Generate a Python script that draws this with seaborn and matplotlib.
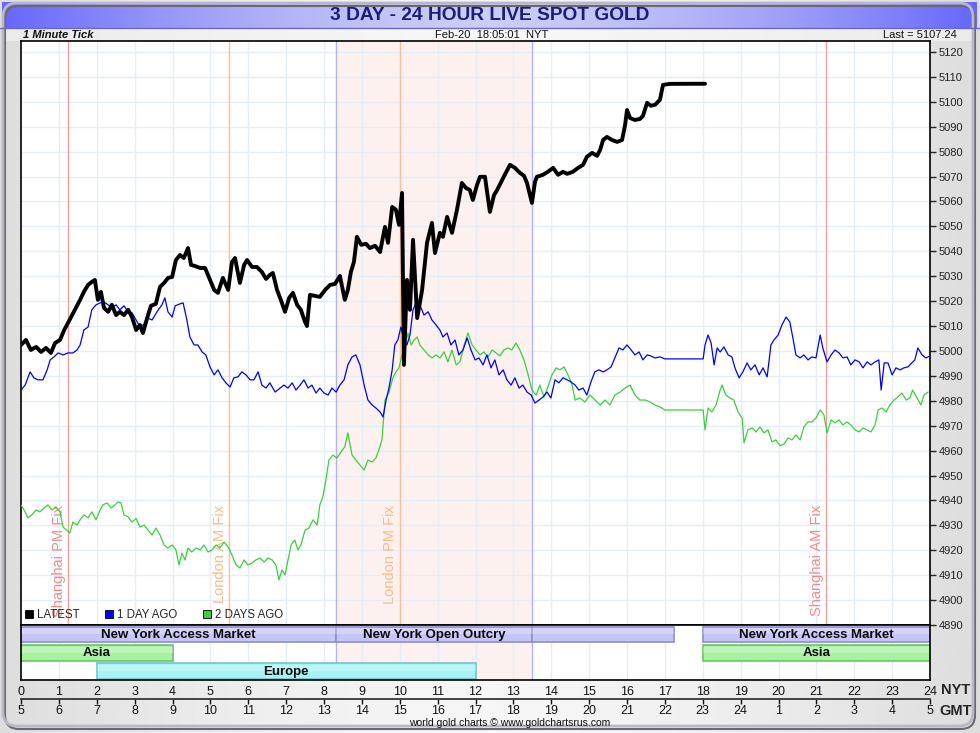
import numpy as np
import matplotlib
matplotlib.use("Agg")
import matplotlib.pyplot as plt
from matplotlib.patches import Patch, FancyBboxPatch
import seaborn as sns

# hours after midnight (New York time) and spot price
latest_hr = [0.00, 0.13, 0.26, 0.40, 0.53, 0.66, 0.79, 0.90, 1.03, 1.14, 1.24, 1.35, 1.45, 1.56, 1.66, 1.77,
             1.87, 1.95, 2.03, 2.11, 2.19, 2.30, 2.40, 2.51, 2.61, 2.72, 2.83, 2.93, 3.04, 3.14, 3.22, 3.33,
             3.43, 3.56, 3.67, 3.78, 3.88, 3.99, 4.09, 4.20, 4.30, 4.41, 4.49, 4.59, 4.73, 4.86, 4.99, 5.10,
             5.20, 5.33, 5.47, 5.57, 5.65, 5.78, 5.89, 5.97, 6.10, 6.23, 6.36, 6.47, 6.57, 6.65, 6.76, 6.86,
             6.97, 7.08, 7.18, 7.29, 7.39, 7.50, 7.55, 7.63, 7.76, 7.89, 8.03, 8.16, 8.29, 8.42, 8.55, 8.63,
             8.71, 8.79, 8.87, 8.98, 9.11, 9.21, 9.35, 9.48, 9.61, 9.69, 9.80, 9.90, 9.98, 10.06, 10.11, 10.19,
             10.27, 10.35, 10.46, 10.59, 10.72, 10.85, 10.93, 11.06, 11.14, 11.25, 11.38, 11.51, 11.64, 11.75,
             11.85, 11.93, 12.04, 12.12, 12.25, 12.38, 12.49, 12.57, 12.73, 12.91, 13.04, 13.17, 13.28, 13.36,
             13.49, 13.57, 13.62, 13.78, 13.91, 14.05, 14.18, 14.31, 14.42, 14.57, 14.71, 14.84, 14.94, 15.08,
             15.21, 15.29, 15.37, 15.47, 15.60, 15.74, 15.87, 15.95, 16.00, 16.08, 16.21, 16.34, 16.42, 16.53,
             16.63, 16.74, 16.87, 16.95, 17.14, 17.40, 17.66, 18.06]
latest_px = [5002.4, 5004.4, 5000.4, 5001.6, 4999.6, 5001.2, 4999.2, 5003.2, 5004.4, 5008.4, 5011.2, 5014.4,
             5017.3, 5020.5, 5023.7, 5026.5, 5027.7, 5028.5, 5020.5, 5023.7, 5017.3, 5015.7, 5018.5, 5014.4,
             5015.7, 5014.4, 5016.5, 5013.6, 5008.4, 5010.4, 5007.2, 5013.2, 5018.1, 5018.9, 5025.7, 5027.3,
             5029.3, 5029.7, 5036.5, 5038.5, 5037.3, 5041.3, 5034.5, 5034.1, 5033.3, 5033.3, 5028.5, 5024.5,
             5023.3, 5029.3, 5024.5, 5035.7, 5037.3, 5027.3, 5034.5, 5036.5, 5033.7, 5033.7, 5031.7, 5028.9,
             5030.5, 5031.3, 5024.5, 5020.5, 5015.7, 5021.3, 5023.3, 5018.5, 5016.5, 5011.6, 5010.0, 5022.5,
             5022.1, 5021.7, 5024.5, 5026.5, 5026.9, 5030.1, 5020.5, 5024.5, 5031.7, 5035.7, 5045.8, 5042.6,
             5043.0, 5041.3, 5042.2, 5039.7, 5049.8, 5043.4, 5057.8, 5056.6, 5050.6, 5063.4, 4994.4, 5028.5,
             5016.5, 5044.6, 5013.2, 5024.5, 5043.4, 5051.4, 5039.3, 5047.4, 5045.8, 5053.8, 5047.4, 5056.6,
             5067.4, 5065.4, 5064.6, 5060.6, 5066.6, 5069.9, 5069.9, 5055.8, 5062.6, 5064.6, 5069.4, 5074.7,
             5073.5, 5071.5, 5070.3, 5067.4, 5059.4, 5067.8, 5069.9, 5070.7, 5071.9, 5073.5, 5070.7, 5071.9,
             5071.1, 5071.9, 5073.5, 5074.7, 5077.9, 5079.5, 5078.3, 5080.7, 5084.7, 5085.9, 5084.7, 5083.9,
             5084.7, 5090.7, 5096.7, 5093.5, 5092.7, 5093.1, 5094.3, 5099.6, 5098.4, 5098.8, 5100.8, 5106.8,
             5107.2, 5107.2, 5107.2, 5107.24]

day1_hr = [0.00, 0.11, 0.24, 0.34, 0.45, 0.58, 0.69, 0.77, 0.87, 0.98, 1.11, 1.24, 1.37, 1.48, 1.56, 1.66,
           1.77, 1.87, 1.98, 2.09, 2.19, 2.30, 2.40, 2.51, 2.61, 2.72, 2.83, 2.93, 3.04, 3.14, 3.25, 3.35,
           3.46, 3.59, 3.72, 3.80, 3.88, 3.99, 4.07, 4.20, 4.28, 4.38, 4.46, 4.57, 4.67, 4.78, 4.88, 4.99,
           5.10, 5.20, 5.31, 5.41, 5.52, 5.62, 5.73, 5.83, 5.94, 6.05, 6.15, 6.26, 6.36, 6.47, 6.57, 6.71,
           6.84, 6.94, 7.05, 7.16, 7.26, 7.37, 7.47, 7.58, 7.68, 7.79, 7.89, 8.00, 8.11, 8.21, 8.32, 8.42,
           8.53, 8.63, 8.74, 8.84, 8.95, 9.06, 9.16, 9.27, 9.37, 9.48, 9.56, 9.64, 9.72, 9.80, 9.87, 9.95,
           10.03, 10.11, 10.19, 10.27, 10.35, 10.43, 10.53, 10.64, 10.75, 10.85, 10.96, 11.06, 11.14, 11.25,
           11.35, 11.46, 11.56, 11.67, 11.78, 11.88, 11.99, 12.09, 12.20, 12.30, 12.41, 12.51, 12.62, 12.73,
           12.83, 12.94, 13.04, 13.15, 13.25, 13.36, 13.47, 13.57, 13.68, 13.78, 13.89, 13.99, 14.10, 14.20,
           14.31, 14.42, 14.52, 14.63, 14.73, 14.84, 14.94, 15.05, 15.15, 15.26, 15.37, 15.47, 15.58, 15.68,
           15.79, 15.89, 16.00, 16.11, 16.21, 16.32, 16.42, 16.53, 16.63, 16.74, 16.87, 17.00, 17.40, 18.01,
           18.06, 18.14, 18.22, 18.30, 18.38, 18.46, 18.56, 18.67, 18.77, 18.85, 18.96, 19.06, 19.17, 19.27,
           19.38, 19.49, 19.59, 19.70, 19.80, 19.88, 19.99, 20.09, 20.20, 20.30, 20.38, 20.46, 20.57, 20.67,
           20.78, 20.88, 20.99, 21.10, 21.17, 21.28, 21.39, 21.49, 21.60, 21.70, 21.81, 21.91, 22.02, 22.13,
           22.23, 22.34, 22.44, 22.55, 22.65, 22.71, 22.79, 22.89, 23.00, 23.10, 23.21, 23.31, 23.42, 23.52,
           23.60, 23.68, 23.79, 23.89, 24.00]
day1_px = [4984.3, 4986.3, 4991.6, 4989.2, 4988.4, 4988.4, 4992.4, 4996.4, 4997.6, 4999.2, 4998.4, 4999.2,
           4999.2, 5000.4, 5002.4, 5008.4, 5009.6, 5016.5, 5018.5, 5019.3, 5019.7, 5018.5, 5017.3, 5018.5,
           5016.5, 5018.1, 5015.7, 5015.3, 5012.4, 5009.6, 5010.8, 5013.2, 5012.4, 5015.7, 5018.5, 5021.3,
           5015.7, 5013.6, 5018.1, 5018.9, 5019.3, 5012.4, 5005.6, 5002.4, 5002.4, 4999.6, 4998.4, 4993.6,
           4990.4, 4992.4, 4989.2, 4987.2, 4985.5, 4989.2, 4989.6, 4991.6, 4990.4, 4988.4, 4988.4, 4991.6,
           4986.3, 4985.1, 4987.2, 4983.5, 4985.1, 4986.3, 4985.1, 4987.2, 4984.3, 4986.3, 4988.4, 4985.1,
           4986.3, 4983.1, 4985.1, 4983.1, 4982.3, 4985.1, 4983.5, 4986.3, 4988.4, 4994.4, 4997.6, 4998.4,
           4994.4, 4986.3, 4980.3, 4978.3, 4977.1, 4975.5, 4973.5, 4980.3, 4985.5, 4992.4, 5002.4, 5004.4,
           5009.6, 5004.4, 5002.4, 5006.4, 5016.5, 5019.3, 5018.5, 5014.4, 5015.7, 5012.4, 5010.4, 5008.4,
           5005.6, 5007.2, 5002.4, 5004.4, 4998.4, 5000.4, 5005.2, 5000.4, 4996.4, 4997.2, 4994.4, 4998.4,
           4993.2, 4996.4, 4990.4, 4992.4, 4988.4, 4986.3, 4989.2, 4985.1, 4986.3, 4983.5, 4982.3, 4979.1,
           4980.3, 4981.5, 4983.5, 4981.1, 4988.4, 4987.2, 4989.2, 4988.4, 4987.6, 4986.3, 4984.3, 4985.1,
           4982.3, 4987.6, 4991.6, 4992.4, 4991.6, 4992.4, 4993.6, 4997.2, 5001.2, 5000.4, 5002.4, 5000.4,
           4998.4, 4999.6, 4996.4, 4998.4, 4998.0, 4997.2, 4997.6, 4996.8, 4996.8, 4996.8, 5002.4, 5006.4,
           5003.2, 4994.4, 5001.2, 4999.6, 5001.6, 4998.4, 4997.6, 4993.2, 4989.2, 4991.6, 4995.2, 4992.4,
           4994.4, 4990.4, 4993.2, 4989.6, 5002.4, 5004.4, 5006.4, 5010.4, 5013.6, 5011.6, 5005.2, 4998.4,
           4997.2, 4998.4, 4996.4, 4997.6, 4997.2, 5006.4, 5001.2, 4995.6, 4998.4, 5000.4, 4999.2, 4997.2,
           4997.6, 4994.4, 4996.4, 4995.6, 4993.2, 4995.6, 4994.4, 4995.6, 4996.4, 4984.3, 4995.2, 4995.2,
           4990.4, 4993.2, 4992.4, 4993.2, 4993.6, 4995.2, 4996.4, 5001.2, 4998.4, 4997.2, 4998.0]

day2_hr = [0.00, 0.11, 0.18, 0.29, 0.40, 0.50, 0.61, 0.71, 0.82, 0.92, 1.03, 1.11, 1.21, 1.29, 1.37, 1.48,
           1.56, 1.66, 1.77, 1.87, 1.98, 2.09, 2.16, 2.27, 2.38, 2.48, 2.56, 2.64, 2.72, 2.83, 2.93, 3.04,
           3.14, 3.25, 3.35, 3.46, 3.56, 3.67, 3.78, 3.88, 3.99, 4.09, 4.17, 4.25, 4.33, 4.41, 4.51, 4.62,
           4.73, 4.83, 4.94, 5.04, 5.15, 5.25, 5.36, 5.47, 5.57, 5.68, 5.78, 5.89, 5.99, 6.10, 6.20, 6.31,
           6.42, 6.52, 6.63, 6.73, 6.81, 6.89, 6.97, 7.05, 7.13, 7.23, 7.31, 7.39, 7.50, 7.60, 7.71, 7.82,
           7.89, 7.97, 8.05, 8.13, 8.24, 8.34, 8.45, 8.55, 8.63, 8.74, 8.84, 8.95, 9.06, 9.16, 9.27, 9.37,
           9.45, 9.53, 9.61, 9.72, 9.82, 9.90, 9.98, 10.06, 10.14, 10.22, 10.30, 10.38, 10.46, 10.53, 10.64,
           10.75, 10.85, 10.96, 11.06, 11.17, 11.27, 11.38, 11.49, 11.59, 11.70, 11.80, 11.91, 12.01, 12.12,
           12.22, 12.33, 12.44, 12.54, 12.65, 12.75, 12.86, 12.96, 13.07, 13.17, 13.28, 13.39, 13.49, 13.60,
           13.70, 13.81, 13.91, 14.02, 14.13, 14.23, 14.34, 14.44, 14.55, 14.63, 14.76, 14.89, 15.02, 15.16,
           15.29, 15.42, 15.55, 15.68, 15.82, 15.95, 16.08, 16.21, 16.34, 16.48, 16.61, 16.74, 16.87, 17.00,
           18.01, 18.06, 18.14, 18.24, 18.35, 18.46, 18.51, 18.61, 18.72, 18.82, 18.93, 19.04, 19.09, 19.19,
           19.30, 19.41, 19.51, 19.62, 19.72, 19.83, 19.93, 20.04, 20.15, 20.25, 20.36, 20.46, 20.57, 20.67,
           20.78, 20.88, 20.99, 21.10, 21.20, 21.28, 21.39, 21.49, 21.60, 21.70, 21.81, 21.91, 22.02, 22.13,
           22.23, 22.34, 22.44, 22.55, 22.63, 22.73, 22.84, 22.94, 23.05, 23.15, 23.26, 23.37, 23.47, 23.54,
           23.66, 23.76, 23.84, 23.95]
day2_px = [4938.2, 4935.4, 4933.0, 4934.2, 4936.2, 4935.4, 4937.0, 4938.2, 4936.2, 4937.4, 4935.4, 4929.3,
           4928.1, 4926.9, 4931.3, 4930.1, 4932.2, 4934.2, 4933.0, 4935.4, 4932.2, 4936.2, 4938.2, 4939.0,
           4937.0, 4938.2, 4939.4, 4939.0, 4934.2, 4933.4, 4931.3, 4932.8, 4929.3, 4930.1, 4928.1, 4926.1,
           4928.9, 4926.1, 4922.1, 4920.9, 4922.1, 4920.1, 4914.1, 4918.9, 4916.1, 4920.9, 4919.3, 4920.9,
           4920.1, 4922.1, 4919.3, 4920.1, 4922.1, 4920.9, 4923.3, 4921.3, 4918.1, 4914.1, 4912.9, 4916.1,
           4914.1, 4914.9, 4916.1, 4916.9, 4915.3, 4916.9, 4916.1, 4914.1, 4908.1, 4912.1, 4910.1, 4916.1,
           4922.1, 4924.1, 4920.1, 4922.1, 4928.1, 4928.9, 4932.2, 4930.1, 4938.2, 4941.4, 4948.2, 4956.2,
           4958.2, 4957.0, 4959.5, 4961.5, 4967.1, 4958.2, 4956.2, 4954.2, 4952.2, 4956.2, 4955.4, 4957.0,
           4960.3, 4964.3, 4980.3, 4983.5, 4989.2, 4991.6, 4993.2, 4998.4, 5002.4, 5007.2, 5002.4, 5004.4,
           5005.6, 5002.4, 5000.4, 4998.4, 4997.2, 4998.4, 4997.2, 4999.6, 4995.6, 5000.4, 4994.4, 4995.6,
           5002.4, 5007.2, 5002.4, 5000.4, 4998.4, 4999.6, 4997.6, 5000.4, 4999.2, 4998.0, 5000.4, 5001.2,
           5000.4, 5003.2, 5000.4, 4996.4, 4990.4, 4984.3, 4982.3, 4986.3, 4981.5, 4985.5, 4990.4, 4993.2,
           4992.4, 4993.6, 4990.4, 4986.3, 4980.3, 4981.1, 4979.5, 4982.3, 4980.3, 4978.3, 4980.3, 4978.3,
           4982.3, 4983.5, 4985.1, 4986.3, 4982.3, 4980.3, 4980.3, 4979.5, 4978.3, 4977.5, 4976.3, 4976.3,
           4968.3, 4977.1, 4975.5, 4978.3, 4984.3, 4986.3, 4982.3, 4981.1, 4980.3, 4975.5, 4973.1, 4963.1,
           4968.3, 4969.1, 4967.5, 4969.5, 4967.1, 4968.3, 4963.5, 4964.3, 4961.9, 4962.7, 4965.1, 4964.3,
           4966.3, 4964.3, 4969.5, 4971.5, 4971.5, 4973.1, 4976.3, 4974.3, 4967.1, 4972.3, 4971.1, 4972.3,
           4970.3, 4971.5, 4970.3, 4968.3, 4967.5, 4969.1, 4968.3, 4967.5, 4970.3, 4976.3, 4977.1, 4975.5,
           4978.3, 4980.3, 4981.5, 4983.1, 4980.3, 4981.1, 4984.3, 4981.1, 4978.3, 4982.3, 4983.5]

series_names = ["LATEST", "1 DAY AGO", "2 DAYS AGO"]
series_colors = ["#000000", "#0000ff", "#3ccf3c"]

# trading sessions (NY hours) drawn in the strip under the chart
session_labels = ["New York Access Market", "New York Open Outcry", "", "New York Access Market",
                  "Asia", "Asia", "Europe"]
session_start = [0, 8.33, 13.5, 18, 0, 18, 2]
session_end = [8.33, 13.5, 17.25, 24, 4, 24, 12]
session_row = [0, 0, 0, 0, 1, 1, 2]
row_colors = ["#c6c6f6", "#a6f2a0", "#a6f3f5"]
row_edges = ["#8e8ecc", "#72c06c", "#72c4cc"]

fix_names = ["Shanghai PM Fix", "London AM Fix", "London PM Fix", "Shanghai AM Fix"]
fix_hours = [1.25, 5.5, 10.0, 21.25]
fix_colors = ["#f4a0a0", "#f5c295", "#f5c295", "#f4a0a0"]
fix_text_colors = ["#f28a8a", "#f7bc88", "#f7bc88", "#f28a8a"]
outcry = (8.33, 13.5)

nyt_hours = list(range(25))
gmt_labels = [str(h) for h in list(range(5, 25)) + [1, 2, 3, 4, 5]]

sns.set_style("white")
plt.rcParams["font.family"] = ["Liberation Sans", "DejaVu Sans"]

W, H = 980, 733
fig = plt.figure(figsize=(W / 100, H / 100), dpi=100)
fig.patch.set_facecolor("#e2e2e2")

# background: grey body, blue title bar, light subtitle band
bg = fig.add_axes([0, 0, 1, 1], zorder=-10)
bg.set_axis_off()
bg.set_xlim(0, W)
bg.set_ylim(H, 0)
xx = np.linspace(-1, 1, 400)
body = 0.965 - 0.1 * np.abs(xx) ** 1.5
bg.imshow(np.tile(body, (2, 1)), extent=(0, W, H, 0), cmap="gray", vmin=0, vmax=1, aspect="auto")
mid = 1 - np.abs(xx) ** 1.6
bar_rgb = np.zeros((2, len(xx), 3))
bar_rgb[..., 0] = 0.40 + 0.40 * mid
bar_rgb[..., 1] = 0.40 + 0.40 * mid
bar_rgb[..., 2] = 1.00 - 0.03 * mid
bg.imshow(bar_rgb, extent=(2, W - 4, 28, 2), aspect="auto")
bg.axhline(28, color="#6a6ab8", lw=1)
band = 0.97 - 0.05 * np.abs(xx)
bg.imshow(np.tile(band, (2, 1)), extent=(4, W - 8, 41, 29), cmap="gray", vmin=0, vmax=1, aspect="auto")
bg.add_patch(FancyBboxPatch((3, 3), W - 10, H - 10, boxstyle="round,pad=0,rounding_size=14",
                            fc="none", ec="#b8b8c8", lw=2))
bg.add_patch(FancyBboxPatch((5, 6), W - 10, H - 10, boxstyle="round,pad=0,rounding_size=14",
                            fc="none", ec="#6a6a6a", lw=1.5, zorder=0))

fig.text(490 / W, 1 - 15.5 / H, "3 DAY - 24 HOUR LIVE SPOT GOLD", ha="center", va="center",
         fontsize=13.8, fontweight="bold", color="#1c1c7a")
fig.text(23 / W, 1 - 35 / H, "1 Minute Tick", ha="left", va="center", fontsize=8,
         fontweight="bold", fontstyle="italic", color="#111111")
fig.text(492 / W, 1 - 35 / H, "Feb-20  18:05:01  NYT", ha="center", va="center", fontsize=8, color="#111111")
fig.text(957 / W, 1 - 35 / H, "Last = 5107.24", ha="right", va="center", fontsize=8, color="#111111")

# main price panel
ax = fig.add_axes([21 / W, 108 / H, 909 / W, 584 / H])
ax.set_facecolor("white")
ax.set_xlim(0, 24)
ax.set_ylim(4890, 5124.4)
ax.axvspan(*outcry, color="#fdf1ef", zorder=0)
for h in range(1, 24):
    ax.axvline(h, color="#e3eef8", lw=1, zorder=0.5)
for p in range(4900, 5121, 10):
    ax.axhline(p, color="#e3eef8", lw=1, zorder=0.5)
for h in outcry:
    ax.axvline(h, color="#b4b4ec", lw=1, zorder=0.6)
for name, h, c, tc in zip(fix_names, fix_hours, fix_colors, fix_text_colors):
    ax.axvline(h, color=c, lw=1, zorder=0.6)
    ax.text(h - 0.06, 4938.2, name, rotation=90, ha="right", va="top", fontsize=10.5, color=tc, zorder=0.7)

sns.lineplot(x=day2_hr, y=day2_px, ax=ax, color=series_colors[2], lw=0.9, zorder=3)
sns.lineplot(x=day1_hr, y=day1_px, ax=ax, color=series_colors[1], lw=0.9, zorder=4)
sns.lineplot(x=latest_hr, y=latest_px, ax=ax, color=series_colors[0], lw=2.8, zorder=5)

ax.yaxis.tick_right()
ax.set_yticks(range(4890, 5121, 10))
ax.tick_params(axis="y", direction="out", length=4, width=1, labelsize=8, colors="#222222", pad=2)
ax.set_xticks([])
ax.set_xlabel("")
ax.set_ylabel("")
for s in ax.spines.values():
    s.set_color("black")
    s.set_linewidth(1.2)

handles = [Patch(fc=c, ec="black", lw=0.6) for c in series_colors]
ax.legend(handles, series_names, loc="lower left", bbox_to_anchor=(0.0, 0.0), ncol=3, frameon=False,
          fontsize=8.3, handlelength=0.7, handleheight=0.7, handletextpad=0.35, columnspacing=2.2,
          borderaxespad=0.15, borderpad=0.2)

# session strip
sx = fig.add_axes([21 / W, 53 / H, 909 / W, 55 / H])
sx.set_facecolor("white")
sx.set_xlim(0, 24)
sx.set_ylim(2.96, -0.04)
sx.axvspan(*outcry, color="#fdf1ef", zorder=0)
for h in range(1, 24):
    sx.axvline(h, color="#e3eef8", lw=1, zorder=0.5)
for h in outcry:
    sx.axvline(h, color="#b4b4ec", lw=1, zorder=0.6)
for lab, a, b, r in zip(session_labels, session_start, session_end, session_row):
    sx.barh(r + 0.48, b - a, left=a, height=0.86, color=row_colors[r], edgecolor=row_edges[r],
            lw=1.2, zorder=2)
    sx.barh(r + 0.3, b - a, left=a, height=0.32, color="white", alpha=0.25, lw=0, zorder=2.1)
    if lab:
        sx.text((a + b) / 2, r + 0.5, lab, ha="center", va="center", fontsize=9.5,
                fontweight="bold", color="#0a0a0a", zorder=3)
sx.set_yticks([])
sx.set_xticks(nyt_hours)
sx.set_xticklabels([str(h) for h in nyt_hours])
sx.tick_params(axis="x", direction="out", length=3, width=1, labelsize=9, colors="#111111", pad=1)
for s in sx.spines.values():
    s.set_color("black")
    s.set_linewidth(1.2)

gx = sx.secondary_xaxis(-0.345)
gx.set_xticks(nyt_hours)
gx.set_xticklabels(gmt_labels)
gx.tick_params(axis="x", direction="out", length=3.5, width=1, labelsize=9, colors="#111111", pad=1)
gx.spines["bottom"].set_linewidth(1.2)

fig.text(956 / W, 1 - 690 / H, "NYT", ha="center", va="center", fontsize=10.5, fontweight="bold")
fig.text(956 / W, 1 - 711 / H, "GMT", ha="center", va="center", fontsize=10.5, fontweight="bold")
fig.text(510 / W, 1 - 723 / H, "world gold charts \u00a9 www.goldchartsrus.com", ha="center", va="center",
         fontsize=7.5, color="#111111")

fig.savefig("out.png", dpi=100)
